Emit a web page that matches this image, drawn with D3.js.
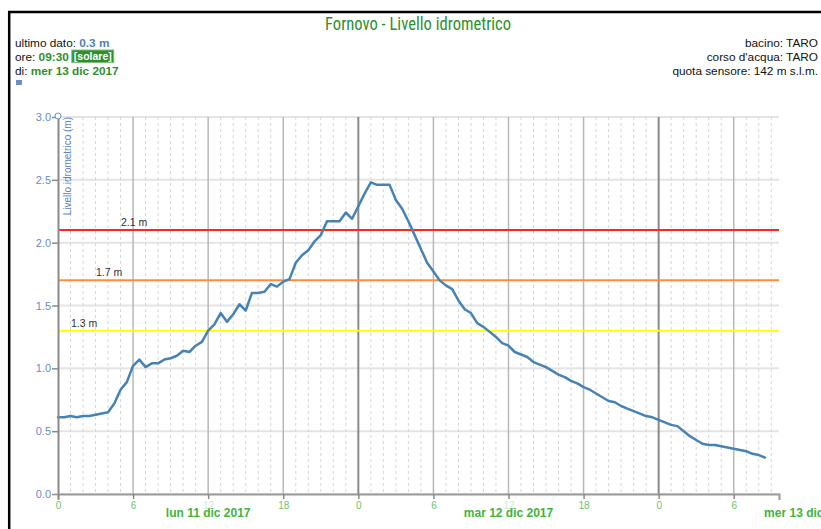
<!DOCTYPE html>
<html><head><meta charset="utf-8">
<script src="https://cdn.jsdelivr.net/npm/d3@7"></script>
<style>
body{margin:0;background:#fff;}
svg{display:block;font-family:"Liberation Sans",Arial,sans-serif;}
</style>
</head><body>
<svg id="chart" width="821" height="529"></svg>
<script>
// ---------------- data ----------------
const chartTitle = "Fornovo - Livello idrometrico";
const yAxisTitle = "Livello idrometrico (m)";
const seriesStart = "2017-12-11T00:00:00";   // first reading
const stepMinutes = 30;                       // sensor sampling interval
const domainEnd = "2017-12-13T09:37:00";
const levels = [
  0.61,0.61,0.62,0.61,0.62,0.62,0.63,0.64,0.65,0.72,0.83,0.89,1.02,1.07,1.01,1.04,1.04,1.07,1.08,1.10,
  1.14,1.13,1.18,1.21,1.30,1.35,1.44,1.37,1.43,1.51,1.46,1.60,1.60,1.61,1.67,1.65,1.69,
  1.71,1.84,1.90,1.94,2.01,2.06,2.17,2.17,2.17,2.24,2.19,2.29,2.39,2.48,2.46,2.46,2.46,2.34,
  2.27,2.17,2.06,1.95,1.84,1.77,1.70,1.66,1.63,1.54,1.47,1.44,1.36,1.33,1.29,1.25,1.20,1.18,
  1.13,1.11,1.09,1.05,1.03,1.01,0.98,0.95,0.93,0.90,0.88,0.85,0.83,0.80,0.77,0.74,0.73,0.70,
  0.68,0.66,0.64,0.62,0.61,0.59,0.57,0.55,0.54,0.50,0.46,0.43,0.40,0.39,0.39,0.38,0.37,0.36,
  0.35,0.34,0.32,0.31,0.29
];
const thresholdValues = [1.3, 1.7, 2.1];
const thresholdLabels = ["1.3 m", "1.7 m", "2.1 m"];
const yTickValues = [0, 0.5, 1.0, 1.5, 2.0, 2.5, 3.0];
const dayLabels = ["lun 11 dic 2017", "mar 12 dic 2017", "mer 13 dic 2017"];
const dayLabelTimes = ["2017-12-11T12:00:00", "2017-12-12T12:00:00", "2017-12-13T12:00:00"];
const infoLeftKeys = ["ultimo dato: ", "ore: ", "di: "];
const lastValue = "0.3 m";
const lastTime = "09:30";
const timeMode = "solare";
const lastDate = "mer 13 dic 2017";
const infoRight = ["bacino: TARO", "corso d'acqua: TARO", "quota sensore: 142 m s.l.m."];

// ---------------- styles ----------------
const thresholdColors = ["#ffff00", "#ff8c3c", "#ff2525"];
const green = "#2e8f2e";
const blue = "#4f81bd";
const tickBlue = "#6b8cc2";
const infoSize = 11.8;

const svg = d3.select("#chart");
const parse = d3.isoParse;
const m = {left: 58, right: 779, top: 117, bottom: 494};

const data = levels.map((v, i) => ({t: d3.timeMinute.offset(parse(seriesStart), i * stepMinutes), v}));

const x = d3.scaleTime().domain([parse(seriesStart), parse(domainEnd)]).range([m.left, m.right]);
const y = d3.scaleLinear().domain([0, 3]).range([m.bottom, m.top]);

// frame
svg.append("line").attr("x1", 8).attr("x2", 821).attr("y1", 12).attr("y2", 12).attr("stroke", "#000").attr("stroke-width", 2.5);
svg.append("line").attr("x1", 9.2).attr("x2", 9.2).attr("y1", 11).attr("y2", 529).attr("stroke", "#000").attr("stroke-width", 2.5);

// title
svg.append("text").attr("x", 418).attr("y", 29.5).attr("text-anchor", "middle")
  .attr("font-family", "'Liberation Sans Narrow','Roboto Condensed','Liberation Sans',sans-serif")
  .attr("font-size", 19).attr("fill", green)
  .attr("textLength", 186).attr("lengthAdjust", "spacingAndGlyphs")
  .text(chartTitle);

// info left
const infoY = [46.5, 60.5, 74.5];
const l1 = svg.append("text").attr("x", 15).attr("y", infoY[0]).attr("font-size", infoSize).attr("fill", "#111");
l1.append("tspan").text(infoLeftKeys[0]);
l1.append("tspan").attr("font-weight", "bold").attr("fill", blue).text(lastValue);

const l2 = svg.append("text").attr("x", 15).attr("y", infoY[1]).attr("font-size", infoSize).attr("fill", "#111");
l2.append("tspan").text(infoLeftKeys[1]);
l2.append("tspan").attr("font-weight", "bold").attr("fill", green).text(lastTime);
const l2w = l2.node().getComputedTextLength();
const sol = svg.append("g").attr("transform", `translate(${15 + l2w + 3},0)`);
const solText = sol.append("text").attr("x", 2).attr("y", infoY[1] - 0.5).attr("font-size", 10.5).attr("font-weight", "bold").attr("fill", "#fff").text("[" + timeMode + "]");
const sw = solText.node().getComputedTextLength();
sol.insert("rect", "text").attr("x", 0).attr("y", infoY[1] - 10.5).attr("width", sw + 4).attr("height", 12.5)
  .attr("fill", green).attr("stroke", "#7bbf7b").attr("stroke-width", 1);

const l3 = svg.append("text").attr("x", 15).attr("y", infoY[2]).attr("font-size", infoSize).attr("fill", "#111");
l3.append("tspan").text(infoLeftKeys[2]);
l3.append("tspan").attr("font-weight", "bold").attr("fill", green).text(lastDate);

svg.append("rect").attr("x", 16).attr("y", 80).attr("width", 6).attr("height", 5).attr("fill", "#6a8fc8");

// info right
svg.selectAll(".infoR").data(infoRight).enter().append("text")
  .attr("x", 818).attr("y", (d, i) => infoY[i]).attr("text-anchor", "end")
  .attr("font-size", infoSize).attr("fill", "#111").text(d => d);

// horizontal grid
svg.append("g").selectAll("line").data(yTickValues).enter().append("line")
  .attr("x1", m.left).attr("x2", m.right).attr("y1", d => y(d)).attr("y2", d => y(d))
  .attr("stroke", "#e4e4e4").attr("stroke-width", 2);

// vertical grid: minor hourly dashed
const hours = d3.timeHour.range(parse(seriesStart), parse(domainEnd));
svg.append("g").selectAll("line").data(hours.filter(h => h.getHours() % 6 !== 0)).enter().append("line")
  .attr("x1", d => x(d)).attr("x2", d => x(d)).attr("y1", m.top).attr("y2", m.bottom)
  .attr("stroke", "#d6d6d6").attr("stroke-width", 1).attr("stroke-dasharray", "3,3");
// major every 6h
svg.append("g").selectAll("line").data(hours.filter(h => h.getHours() % 6 === 0 && +h !== +parse(seriesStart))).enter().append("line")
  .attr("x1", d => x(d)).attr("x2", d => x(d)).attr("y1", m.top).attr("y2", m.bottom)
  .attr("stroke", d => d.getHours() === 0 ? "#8a8a8a" : "#b8b8b8").attr("stroke-width", d => d.getHours() === 0 ? 2 : 1.5);

// thresholds
const th = svg.append("g");
thresholdValues.forEach((v, i) => {
  th.append("line").attr("x1", m.left).attr("x2", m.right).attr("y1", y(v)).attr("y2", y(v))
    .attr("stroke", thresholdColors[i]).attr("stroke-width", 2);
  th.append("text").attr("x", 71 + 25 * i).attr("y", y(v) - 4).attr("font-size", 10.5).attr("fill", "#333").text(thresholdLabels[i]);
});

// line
svg.append("path").datum(data)
  .attr("d", d3.line().x(d => x(d.t)).y(d => y(d.v)))
  .attr("fill", "none").attr("stroke", "#4682b4").attr("stroke-width", 2.5)
  .attr("stroke-linejoin", "round").attr("stroke-linecap", "round");

// y axis
const yAxis = svg.append("g").attr("transform", `translate(${m.left},0)`)
  .call(d3.axisLeft(y).tickValues(yTickValues).tickFormat(d3.format(".1f")).tickSize(6).tickSizeOuter(0));
yAxis.select(".domain").attr("stroke", "#8a8a8a").attr("stroke-width", 2);
yAxis.selectAll(".tick line").attr("stroke", "#8a8a8a").attr("stroke-width", 1.5);
yAxis.selectAll(".tick text").attr("fill", tickBlue).attr("font-size", 11).attr("font-family", "'Liberation Sans',Arial,sans-serif").attr("x", -7);
svg.append("circle").attr("cx", m.left).attr("cy", m.top - 1).attr("r", 3).attr("fill", "#fff").attr("stroke", tickBlue).attr("stroke-width", 1);

svg.append("text").attr("transform", `translate(70.5,${m.top})rotate(-90)`).attr("text-anchor", "end")
  .attr("font-size", 10).attr("fill", "#5b86c4").text(yAxisTitle);

// x axis
const xAxis = svg.append("g").attr("transform", `translate(0,${m.bottom})`)
  .call(d3.axisBottom(x).ticks(d3.timeHour.every(6)).tickFormat(d3.timeFormat("%-H")).tickSize(5).tickSizeOuter(6));
xAxis.select(".domain").attr("stroke", "#9a9a9a").attr("stroke-width", 2);
xAxis.selectAll(".tick line").attr("stroke", "#8a8a8a").attr("stroke-width", 1.5);
xAxis.selectAll(".tick text").attr("fill", "#6cc46c").attr("font-size", 10).attr("y", 8)
  .attr("font-family", "'Liberation Sans',Arial,sans-serif")
  .attr("opacity", d => d.getHours() === 12 ? 0.35 : 1);

// day labels
svg.selectAll(".day").data(dayLabels).enter().append("text")
  .attr("x", (d, i) => x(parse(dayLabelTimes[i]))).attr("y", 517).attr("text-anchor", "middle")
  .attr("font-size", 12).attr("font-weight", "bold").attr("fill", "#3db53d").text(d => d);
</script>
</body></html>
